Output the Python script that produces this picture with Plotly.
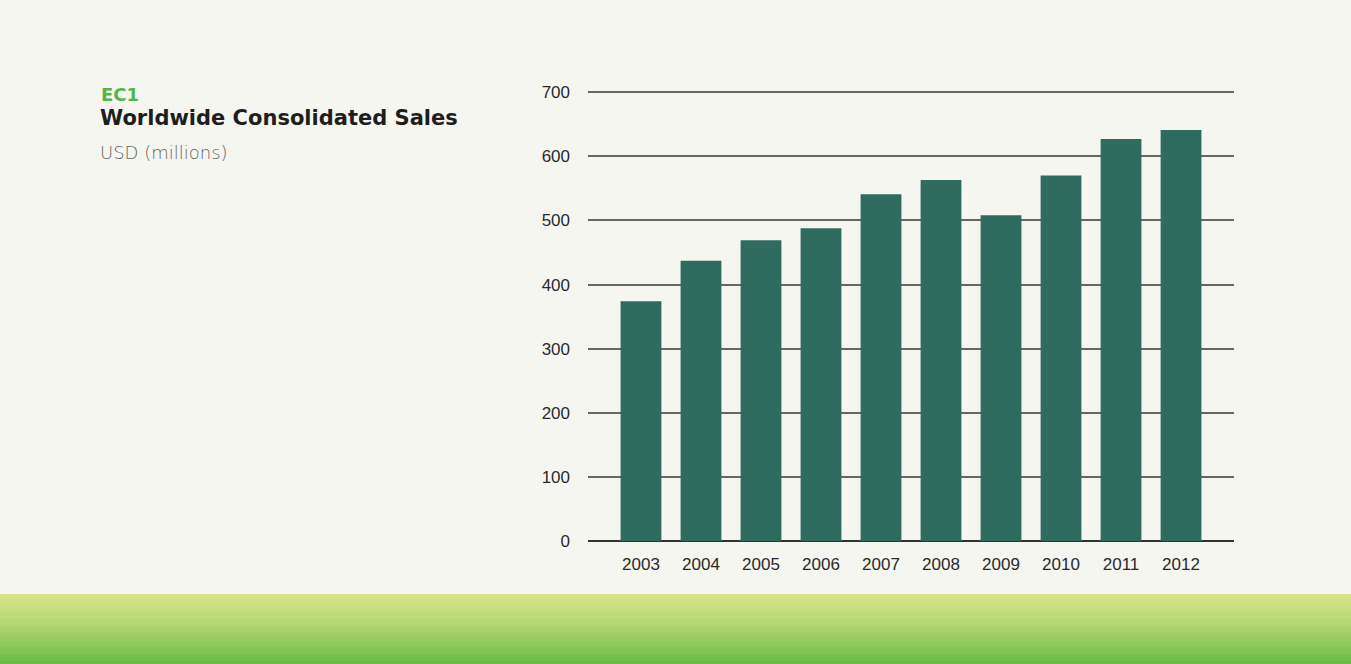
import plotly.graph_objects as go

years = ["2003", "2004", "2005", "2006", "2007", "2008", "2009", "2010", "2011", "2012"]
sales = [374, 437, 469, 488, 541, 563, 508, 570, 627, 641]
y_ticks = [0, 100, 200, 300, 400, 500, 600, 700]

BAR = "#2f6b5e"
BG = "#f6f6f1"
W, H = 1351, 664
L, R, T, B = 588, 117, 89, 123
PH = H - T - B
PW = W - L - R


def px(xp):
    return (xp - L) / PW


def py(yp):
    return (H - B - yp) / PH


fig = go.Figure(go.Bar(x=years, y=sales, marker=dict(color=BAR, line=dict(width=0)),
                       width=0.68, hoverinfo="x+y"))

# gradient green band at bottom (decoration)
shapes = []
n = 30
c0 = (214, 228, 134)
c1 = (104, 188, 68)
ytop, ybot = 594, 664
for i in range(n):
    t = (i / (n - 1)) ** 1.3
    col = tuple(int(c0[k] + (c1[k] - c0[k]) * t) for k in range(3))
    a = ytop + (ybot - ytop) * i / n
    b = ytop + (ybot - ytop) * (i + 1) / n + 0.5
    shapes.append(dict(type="rect", xref="paper", yref="paper", x0=px(-5), x1=px(W + 5),
                       y0=py(b), y1=py(a), fillcolor="rgb(%d,%d,%d)" % col,
                       line=dict(width=0), layer="below"))

fig.update_layout(
    width=W, height=H,
    margin=dict(l=L, r=R, t=T, b=B),
    paper_bgcolor=BG, plot_bgcolor="rgba(0,0,0,0)",
    font=dict(family="Liberation Sans, Arial, sans-serif", size=17, color="#2a2a2a"),
    showlegend=False,
    shapes=shapes,
    xaxis=dict(range=[-0.883, 9.883], showgrid=False, showline=False, ticks="",
               tickfont=dict(size=17, color="#2a2a2a"), ticklabelstandoff=11, fixedrange=True),
    yaxis=dict(range=[0, 705], tickvals=y_ticks, showgrid=True, gridcolor="#666666", gridwidth=1.5,
               zeroline=True, zerolinecolor="#333333", zerolinewidth=1.5, showline=False, ticks="",
               tickfont=dict(size=17, color="#2a2a2a"), ticklabelstandoff=17, fixedrange=True),
)

fig.add_annotation(text="<b>EC1</b>", xref="paper", yref="paper", x=px(99), y=py(82),
                   xanchor="left", yanchor="top", showarrow=False,
                   font=dict(size=18, color="#4db848", family="DejaVu Sans, sans-serif"))
fig.add_annotation(text="<b>Worldwide Consolidated Sales</b>", xref="paper", yref="paper",
                   x=px(98), y=py(104), xanchor="left", yanchor="top", showarrow=False,
                   font=dict(size=21, color="#1e1e1e", family="DejaVu Sans, sans-serif"))
fig.add_annotation(text="USD (millions)", xref="paper", yref="paper", x=px(98), y=py(140),
                   xanchor="left", yanchor="top", showarrow=False,
                   font=dict(size=18, color="#666666", family="DejaVu Sans, sans-serif", weight=300))

fig.write_html("out.html", config=dict(displayModeBar=False))
